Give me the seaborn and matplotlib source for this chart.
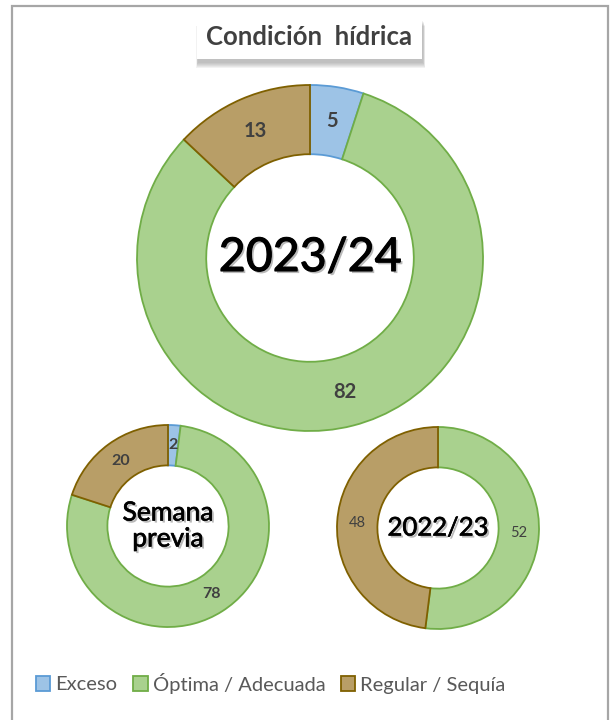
import numpy as np
import seaborn as sns
import matplotlib.pyplot as plt
import matplotlib.patheffects as pe
from matplotlib.patches import Patch, Rectangle

sns.set_theme(style="white")
plt.rcParams["font.family"] = ["Lato", "DejaVu Sans"]

# Data
categorias = ["Exceso", "Óptima / Adecuada", "Regular / Sequía"]
campania_actual = [5, 82, 13]      # 2023/24
semana_previa = [2, 78, 20]
campania_previa = [0, 52, 48]      # 2022/23

relleno = ["#9DC3E6", "#A9D18E", "#B89E67"]
borde = ["#5B9BD5", "#70AD47", "#7F6000"]

W, H = 611, 720
fig = plt.figure(figsize=(W / 100, H / 100), dpi=100)
fig.patch.set_facecolor("white")

# Outer frame of the chart area
fig.patches.append(Rectangle((12 / W, -0.02), 596 / W, (H - 6) / H + 0.02,
                             transform=fig.transFigure, fill=False,
                             edgecolor="#A6A6A6", linewidth=1.6))


def donut(cx, cy, r, valores, centro, centro_size, trazo, label_size, label_weight):
    pad = 1.04
    ax = fig.add_axes([(cx - r * pad) / W, (H - cy - r * pad) / H,
                       2 * r * pad / W, 2 * r * pad / H])
    # skip empty categories so no zero-width wedge gets drawn
    idx = [i for i, v in enumerate(valores) if v > 0]
    vals = [valores[i] for i in idx]
    wedges, texts, autotexts = ax.pie(
        vals,
        colors=[relleno[i] for i in idx],
        startangle=90,
        counterclock=False,
        radius=1,
        autopct=lambda p: f"{p:.0f}",
        pctdistance=0.8,
        wedgeprops=dict(width=0.4, linewidth=1.3),
        textprops=dict(color="#404040", fontsize=label_size,
                       fontweight=label_weight),
    )
    for w, i in zip(wedges, idx):
        w.set_edgecolor(borde[i])
    ax.set_xlim(-pad, pad)
    ax.set_ylim(-pad, pad)
    ax.set_aspect("equal")
    ax.axis("off")
    # regular weight thickened a bit with a stroke, plus a soft drop shadow
    efectos = [pe.SimplePatchShadow(offset=(1.5, -1.5), shadow_rgbFace="#808080",
                                    alpha=0.55),
               pe.Stroke(linewidth=trazo, foreground="black"),
               pe.Normal()]
    ax.text(0, 0, centro, ha="center", va="center", fontsize=centro_size,
            fontweight="normal", color="black", linespacing=1.05,
            path_effects=efectos)
    return ax


donut(310, 258, 173, campania_actual, "2023/24", 33.5, 0.8, 14.5, "bold")
donut(168, 526, 101, semana_previa, "Semana\nprevia", 19, 0.45, 11.5, "bold")
donut(438, 528, 101, campania_previa, "2022/23", 18.5, 0.45, 10.5, "normal")

# Title in a white box with a soft shadow below
bx0, by0, bx1, by1 = 197, 17, 422, 59
for k in range(6, 0, -1):
    fig.patches.append(Rectangle(((bx0 + 1 - k * 0.3) / W, (H - by1 - 3 - k) / H),
                                 (bx1 - bx0 + k * 0.6) / W, (by1 - by0) / H,
                                 transform=fig.transFigure, facecolor="#707070",
                                 edgecolor="none", alpha=0.09))
fig.patches.append(Rectangle((bx0 / W, (H - by1) / H), (bx1 - bx0) / W,
                             (by1 - by0) / H, transform=fig.transFigure,
                             facecolor="white", edgecolor="none"))
fig.text(((bx0 + bx1) / 2) / W, 1 - ((by0 + by1) / 2 - 1) / H, "Condición  hídrica",
         ha="center", va="center", fontsize=18.5, fontweight="bold",
         color="#404040")

# Legend
handles = [Patch(facecolor=f, edgecolor=e, linewidth=1.3)
           for f, e in zip(relleno, borde)]
leg = fig.legend(handles, categorias, loc="center", ncol=3,
                 bbox_to_anchor=(271 / W, 1 - 683 / H), frameon=False,
                 fontsize=14.5, handlelength=0.7, handleheight=0.7,
                 handletextpad=0.25, columnspacing=0.8)
for t in leg.get_texts():
    t.set_color("#595959")

fig.savefig("out.png", dpi=100, facecolor="white")
